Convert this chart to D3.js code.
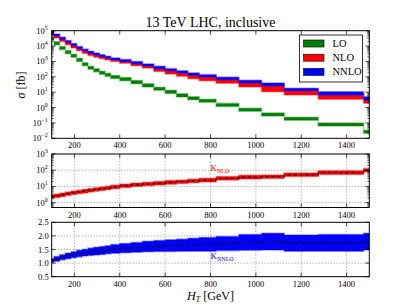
<!DOCTYPE html>
<html><head><meta charset="utf-8">
<script src="https://cdn.jsdelivr.net/npm/d3@7"></script>
<style>
body{margin:0;background:#fff;}
svg{display:block;}
text{font-family:"Liberation Serif","DejaVu Serif",serif;fill:#000;}
</style></head>
<body>
<svg id="c" width="411" height="308"></svg>
<script>
// ---- data ----
const binEdges = [100,110,135,160,185,210,235,260,285,310,335,360,400,450,500,550,600,650,700,750,825,925,1025,1125,1275,1475,1500];
const loLow  = [24000,12000,5900,3200,1900,1000,520,310,210,145,107,78,56,36,22,13.5,8.3,4.9,3.2,2.2,1.17,0.58,0.28,0.148,0.063,0.021];
const loHigh = [38000,19000,9300,5100,2950,1600,830,490,330,230,170,123,89,58,35,21,13.2,7.8,5.0,3.5,1.86,0.91,0.45,0.23,0.10,0.033];
const nloLow  = [50000,34000,20000,12000,7600,5000,3300,2400,1860,1510,1230,1000,760,525,370,220,150,107,76,56,38,22,10.7,6.6,3.5,1.9];
const nloHigh = [79000,52000,33000,20000,12600,8100,5500,4000,3000,2400,1950,1480,1150,850,590,400,295,210,148,115,76,47,30,14.8,7.8,3.6];
const nnloLow  = [68000,45000,28000,17000,10700,6900,4700,3400,2600,2050,1660,1260,980,720,500,340,250,178,126,98,65,40,25,12.6,6.6,3.1];
const nnloHigh = [91000,60000,38000,23000,14500,9300,6300,4600,3500,2750,2200,1700,1350,1000,690,480,340,250,180,138,95,60,40,18,10.7,5.1];
const kNloCentral = [2.3,2.6,3.0,3.5,4.1,4.6,5.1,5.8,6.5,7.2,7.9,9.3,11,12.6,14,16,18,19.5,22,24.5,32,37,40,52,71,100];
const kNloLow  = [1.82,2.04,2.34,2.75,3.16,3.55,3.98,4.47,5.0,5.6,6.2,7.2,8.5,9.8,11,12.3,13.8,15.1,17,19,24.5,29,31,41,55,78];
const kNloHigh = [3.0,3.4,3.9,4.6,5.2,5.9,6.6,7.4,8.3,9.3,10.2,12,14,16.2,18,20.4,23,25,28,31.6,41,48,51,68,91,129];
const kNnloCentral = [1.10,1.16,1.22,1.27,1.31,1.35,1.38,1.41,1.44,1.46,1.48,1.51,1.54,1.57,1.60,1.62,1.63,1.65,1.67,1.69,1.72,1.76,1.79,1.73,1.73,1.79];
const kNnloLow  = [1.03,1.07,1.12,1.16,1.20,1.23,1.26,1.28,1.30,1.32,1.34,1.36,1.38,1.40,1.42,1.43,1.43,1.44,1.44,1.44,1.46,1.47,1.48,1.44,1.44,1.48];
const kNnloHigh = [1.17,1.24,1.31,1.37,1.42,1.47,1.51,1.55,1.58,1.61,1.64,1.68,1.72,1.76,1.80,1.83,1.86,1.88,1.91,1.94,1.98,2.05,2.10,2.03,2.05,2.10];
const xTicks = [200,400,600,800,1000,1200,1400];
const topYTicks = [-2,-1,0,1,2,3,4,5];
const midYTicks = [0,1,2,3];
const botYTicks = [0.5,1.0,1.5,2.0,2.5];
const seriesNames = ["LO","NLO","NNLO"];
const seriesColors = ["#008000","#ff0000","#0000ff"];
const titleText = "13 TeV LHC, inclusive";

// ---- layout ----
const svg = d3.select("#c");
const L = 51.7, R = 369.3;
const x = d3.scaleLinear().domain([100,1500]).range([L,R]);
const yTop = d3.scaleLog().domain([1e-2,1e5]).range([138.3,30.7]);
const yMid = d3.scaleLog().domain([0.5,1000]).range([207.5,154]);
const yBot = d3.scaleLinear().domain([0.5,2.5]).range([276.7,222.3]);

function stepPts(lo, hi){
  const pts=[];
  lo.forEach((v,i)=>{
    pts.push({x:binEdges[i], lo:v, hi:hi?hi[i]:v});
    pts.push({x:binEdges[i+1], lo:v, hi:hi?hi[i]:v});
  });
  return pts;
}

const panels = [
  {y:yTop, id:"p0"},{y:yMid, id:"p1"},{y:yBot, id:"p2"}
];
const defs = svg.append("defs");
panels.forEach(p=>{
  const r = p.y.range();
  defs.append("clipPath").attr("id",p.id).append("rect")
    .attr("x",L).attr("y",r[1]).attr("width",R-L).attr("height",r[0]-r[1]);
});

function grid(g, y, yvals){
  const r=y.range();
  xTicks.forEach(t=>g.append("line").attr("x1",x(t)).attr("x2",x(t)).attr("y1",r[0]).attr("y2",r[1])
    .attr("stroke","#000").attr("stroke-width",0.6).attr("stroke-dasharray","1,2").attr("opacity",0.7));
  yvals.forEach(v=>g.append("line").attr("x1",L).attr("x2",R).attr("y1",y(v)).attr("y2",y(v))
    .attr("stroke","#000").attr("stroke-width",0.6).attr("stroke-dasharray","1,2").attr("opacity",0.7));
}

function band(g, y, lo, hi, color, clip){
  const pts = stepPts(lo,hi);
  const area = d3.area().x(d=>x(d.x)).y0(d=>y(d.lo)).y1(d=>y(d.hi));
  g.append("path").attr("d",area(pts)).attr("fill",color).attr("stroke",color)
    .attr("stroke-opacity",0.35).attr("stroke-width",1.6).attr("clip-path",`url(#${clip})`);
}
function dashed(g, y, vals, clip){
  const pts = stepPts(vals);
  const line = d3.line().x(d=>x(d.x)).y(d=>y(d.lo));
  g.append("path").attr("d",line(pts)).attr("fill","none").attr("stroke","#111")
    .attr("stroke-width",1.3).attr("stroke-dasharray","3,3").attr("clip-path",`url(#${clip})`);
}

function frame(g, y, majors, minors, labelFn, labelsX){
  const r=y.range();
  g.append("rect").attr("x",L).attr("y",r[1]).attr("width",R-L).attr("height",r[0]-r[1])
    .attr("fill","none").attr("stroke","#000").attr("stroke-width",1);
  xTicks.forEach(t=>{
    g.append("line").attr("x1",x(t)).attr("x2",x(t)).attr("y1",r[0]).attr("y2",r[0]-4).attr("stroke","#000").attr("stroke-width",0.7);
    g.append("line").attr("x1",x(t)).attr("x2",x(t)).attr("y1",r[1]).attr("y2",r[1]+4).attr("stroke","#000").attr("stroke-width",0.7);
    if(labelsX) g.append("text").attr("x",x(t)).attr("y",r[0]+10).attr("text-anchor","middle").attr("font-size",8.5).text(t);
  });
  majors.forEach(v=>{
    g.append("line").attr("x1",L).attr("x2",L+4).attr("y1",y(v)).attr("y2",y(v)).attr("stroke","#000").attr("stroke-width",0.7);
    g.append("line").attr("x1",R).attr("x2",R-4).attr("y1",y(v)).attr("y2",y(v)).attr("stroke","#000").attr("stroke-width",0.7);
    labelFn(g, v);
  });
  minors.forEach(v=>{
    g.append("line").attr("x1",L).attr("x2",L+2).attr("y1",y(v)).attr("y2",y(v)).attr("stroke","#000").attr("stroke-width",0.6);
    g.append("line").attr("x1",R).attr("x2",R-2).attr("y1",y(v)).attr("y2",y(v)).attr("stroke","#000").attr("stroke-width",0.6);
  });
}
function logMinors(lo, hi){
  const out=[];
  for(let e=Math.floor(Math.log10(lo)); e<Math.log10(hi); e++)
    for(let k=2;k<10;k++){const v=k*Math.pow(10,e); if(v>lo&&v<hi) out.push(v);}
  return out;
}
function powLabel(y){
  return (g,v)=>{
    const t=g.append("text").attr("x",L-4).attr("y",y(v)+3).attr("text-anchor","end").attr("font-size",8.5);
    t.append("tspan").text("10");
    t.append("tspan").attr("dy",-4).attr("font-size",6).text(String(Math.log10(v)).replace("-","\u2212"));
  };
}

// ---- top panel ----
const g0 = svg.append("g");
band(g0, yTop, loLow, loHigh, seriesColors[0], "p0");
band(g0, yTop, nloLow, nloHigh, seriesColors[1], "p0");
band(g0, yTop, nnloLow, nnloHigh, seriesColors[2], "p0");
frame(g0, yTop, topYTicks.map(e=>Math.pow(10,e)), logMinors(1e-2,1e5), powLabel(yTop), true);
svg.append("text").attr("x",(L+R)/2).attr("y",27).attr("text-anchor","middle").attr("font-size",14).text(titleText);
svg.append("text").attr("transform","translate(25,85) rotate(-90)").attr("text-anchor","middle").attr("font-size",12)
  .html('<tspan font-style="italic">σ</tspan> [fb]');

// legend
const lg = svg.append("g");
lg.append("rect").attr("x",299.5).attr("y",35).attr("width",63).attr("height",47).attr("fill","#fff").attr("stroke","#000").attr("stroke-width",0.8);
seriesNames.forEach((n,i)=>{
  const yy = 43.5 + i*14.2;
  lg.append("rect").attr("x",303.5).attr("y",yy-3.5).attr("width",20.5).attr("height",7).attr("fill",seriesColors[i]).attr("stroke","#000").attr("stroke-width",0.6);
  lg.append("text").attr("x",332.5).attr("y",yy+3.5).attr("font-size",10.5).text(n);
});

// ---- middle panel ----
const g1 = svg.append("g");
grid(g1, yMid, [1,10,100]);
band(g1, yMid, kNloLow, kNloHigh, seriesColors[1], "p1");
dashed(g1, yMid, kNloCentral, "p1");
frame(g1, yMid, midYTicks.map(e=>Math.pow(10,e)), logMinors(0.5,1000), powLabel(yMid), true);
g1.append("text").attr("x",x(800)).attr("y",171).attr("fill","#ff0000").attr("font-size",9)
  .html('<tspan fill="#ff0000">K</tspan><tspan fill="#ff0000" font-size="6" dy="2">NLO</tspan>');

// ---- bottom panel ----
const g2 = svg.append("g");
grid(g2, yBot, [1.0,1.5,2.0]);
band(g2, yBot, kNnloLow, kNnloHigh, seriesColors[2], "p2");
dashed(g2, yBot, kNnloCentral, "p2");
frame(g2, yBot, botYTicks, [], (g,v)=>{
  g.append("text").attr("x",L-3).attr("y",yBot(v)+3).attr("text-anchor","end").attr("font-size",8.5).text(v.toFixed(1));
}, true);
g2.append("text").attr("x",x(800)).attr("y",259).attr("font-size",9)
  .html('<tspan fill="#0000ff">K</tspan><tspan fill="#0000ff" font-size="6" dy="2">NNLO</tspan>');
svg.append("text").attr("x",(L+R)/2).attr("y",300).attr("text-anchor","middle").attr("font-size",12)
  .html('<tspan font-style="italic">H</tspan><tspan font-style="italic" font-size="8" dy="2">T</tspan><tspan dy="-2"> [GeV]</tspan>');
</script>
</body></html>
